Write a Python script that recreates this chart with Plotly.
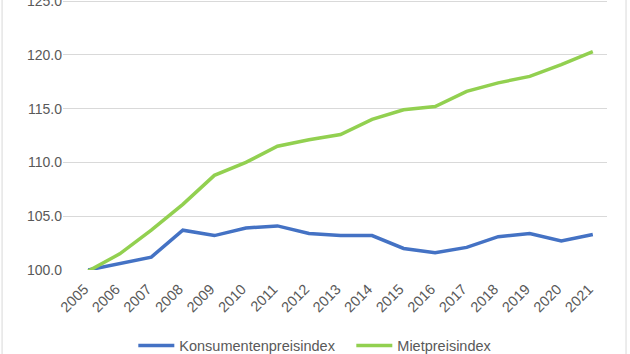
import plotly.graph_objects as go

years = [str(y) for y in range(2005, 2022)]
kpi = [100.0, 100.6, 101.2, 103.7, 103.2, 103.9, 104.1, 103.4, 103.2, 103.2,
       102.0, 101.6, 102.1, 103.1, 103.4, 102.7, 103.3]
miete = [99.9, 101.5, 103.7, 106.1, 108.8, 110.0, 111.5, 112.1, 112.6, 114.0,
         114.9, 115.2, 116.6, 117.4, 118.0, 119.1, 120.3]
y_ticks = [100, 105, 110, 115, 120, 125]

fig = go.Figure()
fig.add_trace(go.Scatter(x=years, y=kpi, mode="lines", name="Konsumentenpreisindex",
                         line=dict(color="#4472C4", width=3.5)))
fig.add_trace(go.Scatter(x=years, y=miete, mode="lines", name="Mietpreisindex",
                         line=dict(color="#92D050", width=3.5)))

font = dict(family="Liberation Sans, Arial, sans-serif", size=14, color="#595959")
fig.update_layout(
    width=630, height=354,
    margin=dict(l=63, r=23, t=0, b=84, autoexpand=False),
    paper_bgcolor="white", plot_bgcolor="white",
    font=font,
    showlegend=True,
    legend=dict(orientation="h", x=0.530, xanchor="center", y=-0.28, yanchor="middle",
                font=dict(size=14.5, color="#595959"), itemwidth=36, entrywidth=167),
    xaxis=dict(type="category", range=[-0.8, 16.45], tickangle=-45, automargin=False,
               showgrid=False, showline=False, zeroline=False, ticks="",
               ticklabelstandoff=7, ticklabelshift=-4,
               tickfont=dict(size=14.5, color="#595959")),
    yaxis=dict(range=[100, 125.1], tickvals=y_ticks, tickformat=".1f",
               ticklabeloverflow="allow", automargin=False,
               showgrid=True, gridcolor="#D9D9D9", gridwidth=1, zeroline=False,
               showline=False, ticks="", tickfont=dict(size=14, color="#595959")),
)
fig.add_shape(type="rect", xref="paper", yref="paper", x0=-0.112, x1=1.035, y0=-0.4, y1=1.1,
              line=dict(color="#D9D9D9", width=1), layer="below")
fig.write_html("out.html")
